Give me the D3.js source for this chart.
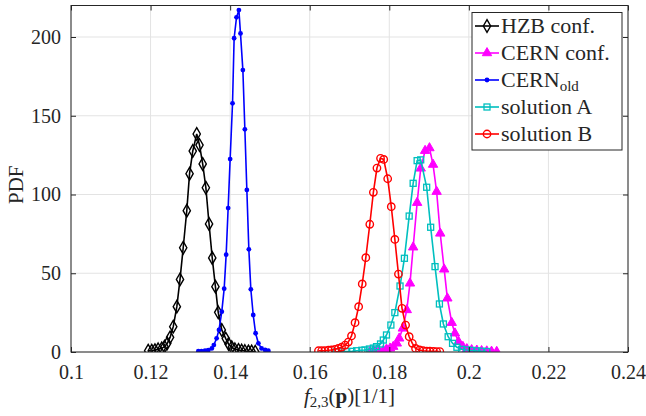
<!DOCTYPE html>
<html><head><meta charset="utf-8">
<script src="https://cdn.jsdelivr.net/npm/d3@7"></script>
<style>
body{margin:0;background:#fff}
svg{display:block}
text{font-family:"Liberation Serif","Times New Roman",serif;fill:#262626}
</style>
</head><body>
<svg id="chart" width="646" height="416"></svg>
<script>
// ---- data ----
const xTicks = [0.1, 0.12, 0.14, 0.16, 0.18, 0.2, 0.22, 0.24];
const xTickLabels = ["0.1", "0.12", "0.14", "0.16", "0.18", "0.2", "0.22", "0.24"];
const yTicks = [0, 50, 100, 150, 200];
const yTickLabels = ["0", "50", "100", "150", "200"];
const seriesNames = ["HZB conf.", "CERN conf.", "CERN", "solution A", "solution B"];

const hzbX = [.1194,.1203,.1211,.1219,.1228,.1235,.1242,.1249,.1257,.1266,.1274,.1282,.1291,.1298,.1306,.1316,.1323,.1331,.1339,.1347,.1355,.1363,.1370,.1379,.1389,.1396,.1404,.1412,.1421,.1429,.1437,.1446,.1454,.1463];
const hzbY = [0.8,0.8,1.2,1.7,2.3,3.4,5.5,9.3,16.1,28.8,46.1,66.2,89.7,113.2,127.6,138.4,131.4,119.4,104.3,81.3,59.7,41.5,25.2,14.0,8.5,5.1,3.0,1.7,1.3,0.9,0.6,0.4,0.3,0.2];

const cernX = [.1752,.1763,.1774,.1785,.1793,.1802,.1810,.1819,.1825,.1834,.1844,.1852,.1860,.1870,.1879,.1890,.1901,.1910,.1919,.1928,.1938,.1946,.1957,.1965,.1974,.1985,.1995,.2007,.2020,.2032,.2045,.2057,.2070];
const cernY = [0.2,0.3,0.5,1.0,1.7,2.3,3.4,5.5,8.7,15.0,26.7,43.6,66.5,94.8,116.6,127.8,129.5,119.0,101.8,75.3,52.5,34.1,18.6,11.9,6.6,3.4,1.9,1.3,1.0,0.7,0.5,0.3,0.2];

const cernOldX = [.1320,.1328,.1337,.1345,.1354,.1359,.1366,.1372,.1379,.1385,.1390,.1395,.1400,.1406,.1410,.1416,.1422,.1426,.1432,.1437,.1442,.1447,.1452,.1458,.1464,.1471,.1479,.1488,.1496];
const cernOldY = [0.5,0.6,0.8,1.2,2.3,4.4,8.7,14.0,25.6,40.2,61.8,91.4,122.5,157.9,199.2,212.5,217.1,202.3,179.0,141.4,102.9,65.2,39.8,23.5,11.9,5.5,2.3,1.3,0.8];

const solAX = [.1668,.1680,.1693,.1706,.1718,.1731,.1739,.1750,.1760,.1768,.1778,.1785,.1793,.1804,.1814,.1827,.1838,.1850,.1860,.1870,.1879,.1894,.1904,.1915,.1926,.1936,.1948,.1959,.1970,.1982,.1995,.2007,.2020,.2032,.2045];
const solAY = [0.2,0.2,0.3,0.4,0.8,1.1,1.3,1.9,2.5,3.4,5.1,7.6,10.8,17.1,25.0,41.9,59.5,86.3,107.1,121.5,122.0,104.6,79.2,54.2,30.5,17.8,9.7,5.5,3.0,1.7,1.3,1.0,0.7,0.5,0.3];

const solBX = [.1622,.1630,.1638,.1647,.1655,.1664,.1672,.1680,.1689,.1697,.1705,.1714,.1723,.1732,.1741,.1751,.1760,.1769,.1778,.1786,.1796,.1805,.1814,.1823,.1832,.1841,.1850,.1858,.1866,.1876,.1885,.1894,.1902,.1911,.1919,.1927];
const solBY = [0.8,0.8,0.8,1.1,1.3,1.7,2.3,3.0,4.4,6.3,10.2,18.6,28.8,43.2,59.9,81.1,101.4,116.8,123.0,122.3,110.0,92.3,71.5,49.5,27.7,17.1,9.7,5.5,2.3,1.3,0.8,0.6,0.5,0.4,0.3,0.3];

// ---- layout ----
const svg = d3.select("#chart");
const L = 71, R = 628, T = 5.5, B = 352;
const x = d3.scaleLinear().domain([0.1, 0.24]).range([L, R]);
const y = d3.scaleLinear().domain([0, 220]).range([B, T]);
const axisColor = "#262626", gridColor = "#e3e3e3";

// grid
const g = svg.append("g");
g.selectAll(".vg").data(xTicks).join("line")
  .attr("x1", d => x(d)).attr("x2", d => x(d)).attr("y1", T).attr("y2", B)
  .attr("stroke", gridColor).attr("stroke-width", 1);
g.selectAll(".hg").data(yTicks).join("line")
  .attr("y1", d => y(d)).attr("y2", d => y(d)).attr("x1", L).attr("x2", R)
  .attr("stroke", gridColor).attr("stroke-width", 1);

// series
svg.append("clipPath").attr("id", "clip").append("rect")
  .attr("x", L).attr("y", T).attr("width", R - L).attr("height", B - T);

const series = [
  {name: seriesNames[0], xs: hzbX, ys: hzbY, color: "#000000", marker: "diamond"},
  {name: seriesNames[1], xs: cernX, ys: cernY, color: "#ff00ff", marker: "triangle"},
  {name: seriesNames[2], xs: cernOldX, ys: cernOldY, color: "#0000ff", marker: "dot", sub: "old"},
  {name: seriesNames[3], xs: solAX, ys: solAY, color: "#00bfbf", marker: "square"},
  {name: seriesNames[4], xs: solBX, ys: solBY, color: "#ff0000", marker: "circle"}
];

function drawMarker(sel, type, color) {
  if (type === "diamond") {
    sel.append("path").attr("d", d3.symbol(d3.symbolDiamond, 46)())
      .attr("fill", "none").attr("stroke", color).attr("stroke-width", 1.4);
  } else if (type === "triangle") {
    sel.append("path").attr("d", d3.symbol(d3.symbolTriangle, 38)())
      .attr("fill", color).attr("stroke", color).attr("stroke-width", 1);
  } else if (type === "dot") {
    sel.append("circle").attr("r", 2.4).attr("fill", color);
  } else if (type === "square") {
    sel.append("rect").attr("x", -3).attr("y", -3).attr("width", 6).attr("height", 6)
      .attr("fill", "none").attr("stroke", color).attr("stroke-width", 1.3);
  } else if (type === "circle") {
    sel.append("circle").attr("r", 3.7).attr("fill", "none").attr("stroke", color).attr("stroke-width", 1.4);
  }
}

const plot = svg.append("g").attr("clip-path", "url(#clip)");
series.forEach(s => {
  const pts = s.xs.map((v, i) => [v, s.ys[i]]);
  plot.append("path").datum(pts)
    .attr("d", d3.line().x(d => x(d[0])).y(d => y(d[1])))
    .attr("fill", "none").attr("stroke", s.color).attr("stroke-width", 1.6);
  plot.append("g").selectAll("g").data(pts).join("g")
    .attr("transform", d => `translate(${x(d[0])},${y(d[1])})`)
    .each(function() { drawMarker(d3.select(this), s.marker, s.color); });
});

// axes (ticks inside, box)
const fmtX = d => xTickLabels[xTicks.indexOf(d)];
const fmtY = d => yTickLabels[yTicks.indexOf(d)];
function styleAxis(a) {
  a.select(".domain").remove();
  a.selectAll("line").attr("stroke", axisColor);
  a.selectAll("text").attr("fill", axisColor).style("font-size", "20px")
    .style("font-family", "'Liberation Serif','Times New Roman',serif");
}
svg.append("g").attr("transform", `translate(0,${B})`)
  .call(d3.axisBottom(x).tickValues(xTicks).tickFormat(fmtX).tickSizeInner(-5).tickSizeOuter(0).tickPadding(13))
  .call(styleAxis);
svg.append("g").attr("transform", `translate(0,${T})`)
  .call(d3.axisTop(x).tickValues(xTicks).tickFormat("").tickSizeInner(-5).tickSizeOuter(0))
  .call(styleAxis);
svg.append("g").attr("transform", `translate(${L},0)`)
  .call(d3.axisLeft(y).tickValues(yTicks).tickFormat(fmtY).tickSizeInner(-5).tickSizeOuter(0).tickPadding(10))
  .call(styleAxis);
svg.append("g").attr("transform", `translate(${R},0)`)
  .call(d3.axisRight(y).tickValues(yTicks).tickFormat("").tickSizeInner(-5).tickSizeOuter(0))
  .call(styleAxis);
svg.append("rect").attr("x", L).attr("y", T).attr("width", R - L).attr("height", B - T)
  .attr("fill", "none").attr("stroke", axisColor).attr("stroke-width", 1);

// axis labels
svg.append("text").attr("transform", `translate(23,${(T + B) / 2 + 6}) rotate(-90)`)
  .attr("text-anchor", "middle").style("font-size", "21px").text("PDF");
const xl = svg.append("text").attr("x", (L + R) / 2).attr("y", 403)
  .attr("text-anchor", "middle").style("font-size", "21px");
xl.append("tspan").style("font-style", "italic").text("f");
xl.append("tspan").attr("dy", 4).style("font-size", "15px").text("2,3");
xl.append("tspan").attr("dy", -4).text("(");
xl.append("tspan").style("font-weight", "bold").text("p");
xl.append("tspan").text(")[1/1]");

// legend
const lg = svg.append("g");
lg.append("rect").attr("x", 472).attr("y", 12.5).attr("width", 150).attr("height", 137.5)
  .attr("fill", "#fff").attr("stroke", axisColor).attr("stroke-width", 1);
const rowY = [26, 53, 80, 107, 134];
series.forEach((s, i) => {
  const r = lg.append("g").attr("transform", `translate(0,${rowY[i]})`);
  r.append("line").attr("x1", 475).attr("x2", 499).attr("stroke", s.color).attr("stroke-width", 1.6);
  const m = r.append("g").attr("transform", "translate(487,0)");
  drawMarker(m, s.marker, s.color);
  const t = r.append("text").attr("x", 501).attr("y", 7).style("font-size", "22px").text(s.name);
  if (s.sub) t.append("tspan").attr("dy", 4).style("font-size", "15px").text(s.sub);
});
</script>
</body></html>
